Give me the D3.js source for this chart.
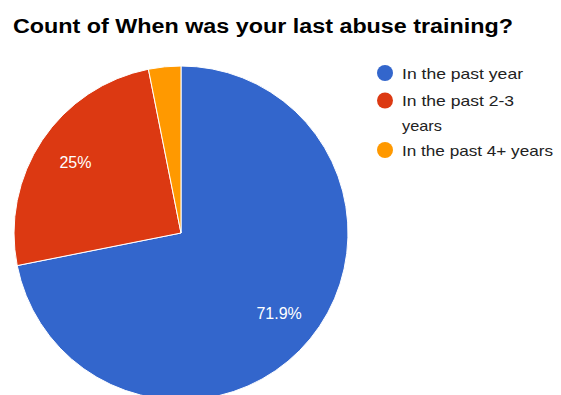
<!DOCTYPE html>
<html>
<head>
<meta charset="utf-8">
<script src="https://cdn.jsdelivr.net/npm/d3@7"></script>
<style>
  html, body { margin: 0; padding: 0; background: #fff; }
  svg { display: block; font-family: "Liberation Sans", Arial, sans-serif; }
</style>
</head>
<body>
<svg id="chart" width="561" height="395"></svg>
<script>
// Survey answers and their response counts
const categories = ["In the past year", "In the past 2-3 years", "In the past 4+ years"];
const counts = [23, 8, 1];
const colors = ["#3366cc", "#dc3912", "#ff9900"];
// Legend lines (long labels wrap onto a second line)
const legendLines = [["In the past year"], ["In the past 2-3", "years"], ["In the past 4+ years"]];
const titleText = "Count of When was your last abuse training?";

const svg = d3.select("#chart");
const W = 561, H = 395;

// Title
svg.append("text")
  .attr("x", 13).attr("y", 33)
  .attr("font-size", 20).attr("font-weight", "bold")
  .attr("fill", "#000")
  .attr("textLength", 500).attr("lengthAdjust", "spacingAndGlyphs")
  .text(titleText);

// Pie
const cx = 181, cy = 233, r = 167;
const total = d3.sum(counts);
const pie = d3.pie().sort(null).value(d => d.value);
const arcs = pie(categories.map((c, i) => ({ name: c, value: counts[i], color: colors[i] })));
const arc = d3.arc().innerRadius(0).outerRadius(r);

const g = svg.append("g").attr("transform", `translate(${cx},${cy})`);
g.selectAll("path.slice")
  .data(arcs)
  .join("path")
  .attr("class", "slice")
  .attr("d", arc)
  .attr("fill", d => d.data.color)
  .attr("stroke", "#fff")
  .attr("stroke-width", 1);

// Percentage labels on slices large enough to hold them
const labelArc = d3.arc().innerRadius(r * 0.76).outerRadius(r * 0.76);
const fmt = v => {
  const p = v / total * 100;
  return (Math.round(p * 10) / 10) + "%";
};
g.selectAll("text.pct")
  .data(arcs.filter(d => d.data.value / total > 0.05))
  .join("text")
  .attr("class", "pct")
  .attr("transform", d => `translate(${labelArc.centroid(d)})`)
  .attr("text-anchor", "middle")
  .attr("dy", "0.35em")
  .attr("font-size", 16)
  .attr("fill", "#fff")
  .text(d => fmt(d.data.value));

// Legend
const legendX = 385;
const dotY = [73, 100.5, 150];
const lineY = [[79], [106, 131], [156]];
const lineW = {"In the past year": 121, "In the past 2-3": 112, "years": 40, "In the past 4+ years": 151};
const legend = svg.append("g");
categories.forEach((c, i) => {
  legend.append("circle")
    .attr("cx", legendX).attr("cy", dotY[i]).attr("r", 8)
    .attr("fill", colors[i]);
  legendLines[i].forEach((ln, j) => {
    legend.append("text")
      .attr("x", 402).attr("y", lineY[i][j])
      .attr("font-size", 15)
      .attr("fill", "#222")
      .attr("textLength", lineW[ln]).attr("lengthAdjust", "spacingAndGlyphs")
      .text(ln);
  });
});
</script>
</body>
</html>
